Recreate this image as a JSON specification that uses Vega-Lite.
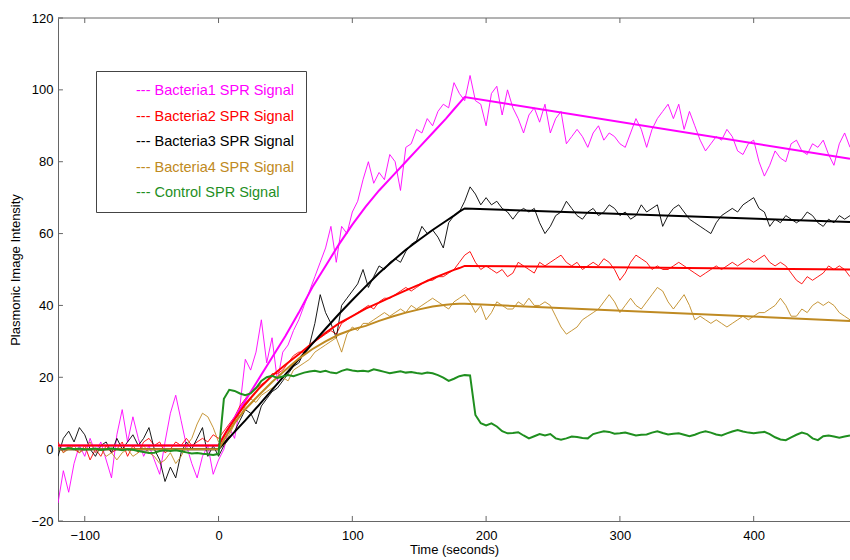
{
 "$schema": "https://vega.github.io/schema/vega-lite/v6.json",
 "width": 792, "height": 503,
 "autosize": {"type": "none"},
 "padding": {"left": 58, "top": 18, "right": 0, "bottom": 39},
 "background": "white",
 "config": {
  "view": {"stroke": null},
  "font": "Liberation Sans",
  "axis": {"domainColor": "#666", "ticks": false, "tickSize": 0, "labelColor": "#000", "labelFont": "Liberation Sans", "labelFontSize": 13, "titleFont": "Liberation Sans", "titleFontSize": 13, "titleFontWeight": "normal", "titleColor": "#000", "grid": false}
 },
 "datasets": {
  "xticks": [{"tv":-100},{"tv":0},{"tv":100},{"tv":200},{"tv":300},{"tv":400}],
  "yticks": [{"tv":-20},{"tv":0},{"tv":20},{"tv":40},{"tv":60},{"tv":80},{"tv":100},{"tv":120}],
  "raw": [
   {"t":-120,"b1":-15,"b2":2,"b3":-2,"b4":1,"c":0.2},
   {"t":-116,"b1":-6,"b2":-1,"b3":3,"b4":-1,"c":0},
   {"t":-112,"b1":-12,"b2":1,"b3":5,"b4":0,"c":0.3},
   {"t":-108,"b1":-4,"b2":0,"b3":2,"b4":1,"c":0},
   {"t":-104,"b1":1,"b2":-1,"b3":6,"b4":-1,"c":0.2},
   {"t":-100,"b1":-2,"b2":1,"b3":4,"b4":0,"c":-0.1},
   {"t":-96,"b1":3,"b2":-3,"b3":0,"b4":2,"c":0},
   {"t":-92,"b1":-1,"b2":0,"b3":-2,"b4":-1,"c":0.2},
   {"t":-88,"b1":2,"b2":-2,"b3":1,"b4":0,"c":-0.2},
   {"t":-84,"b1":-3,"b2":1,"b3":2,"b4":-2,"c":0},
   {"t":-80,"b1":-8,"b2":-1,"b3":-1,"b4":-1,"c":0.2},
   {"t":-76,"b1":4,"b2":0,"b3":3,"b4":-3,"c":0},
   {"t":-72,"b1":11,"b2":2,"b3":0,"b4":-1,"c":-0.3},
   {"t":-68,"b1":2,"b2":-2,"b3":2,"b4":0,"c":0},
   {"t":-64,"b1":9,"b2":1,"b3":4,"b4":-2,"c":-0.2},
   {"t":-60,"b1":3,"b2":-1,"b3":1,"b4":-1,"c":-0.5},
   {"t":-56,"b1":-2,"b2":2,"b3":3,"b4":1,"c":-0.8},
   {"t":-52,"b1":1,"b2":3,"b3":6,"b4":-1,"c":-1.1},
   {"t":-48,"b1":-3,"b2":1,"b3":0,"b4":-2,"c":-1},
   {"t":-44,"b1":-7,"b2":2,"b3":-3,"b4":-4,"c":-0.5},
   {"t":-40,"b1":2,"b2":-1,"b3":-9,"b4":-3,"c":-0.3},
   {"t":-36,"b1":10,"b2":0,"b3":-5,"b4":-1,"c":-0.5},
   {"t":-32,"b1":15,"b2":2,"b3":-8,"b4":-4,"c":-0.3},
   {"t":-28,"b1":8,"b2":1,"b3":-1,"b4":-2,"c":-0.6},
   {"t":-24,"b1":1,"b2":3,"b3":2,"b4":1,"c":-0.9},
   {"t":-20,"b1":-4,"b2":1,"b3":0,"b4":3,"c":-1.2},
   {"t":-16,"b1":-8,"b2":2,"b3":3,"b4":7,"c":-1.1},
   {"t":-12,"b1":-2,"b2":3,"b3":6,"b4":10,"c":-1.3},
   {"t":-8,"b1":1,"b2":2,"b3":-2,"b4":9,"c":-1.4},
   {"t":-4,"b1":-7,"b2":4,"b3":1,"b4":6,"c":-1.6},
   {"t":0,"b1":-3,"b2":3,"b3":-2,"b4":2,"c":-1.3},
   {"t":4,"b1":0,"b2":5,"b3":1,"b4":1,"c":14},
   {"t":8,"b1":6,"b2":7,"b3":3,"b4":4,"c":16.5},
   {"t":12,"b1":3,"b2":9,"b3":5,"b4":7,"c":16.2},
   {"t":16,"b1":12,"b2":12,"b3":8,"b4":9,"c":15.5},
   {"t":20,"b1":25,"b2":14,"b3":11,"b4":12,"c":15},
   {"t":24,"b1":22,"b2":16,"b3":10,"b4":14,"c":15.5},
   {"t":28,"b1":27,"b2":17,"b3":7,"b4":13,"c":17},
   {"t":32,"b1":36,"b2":18,"b3":12,"b4":15,"c":19},
   {"t":36,"b1":24,"b2":19,"b3":14,"b4":16,"c":20},
   {"t":40,"b1":31,"b2":21,"b3":16,"b4":17,"c":20.4},
   {"t":44,"b1":19,"b2":21,"b3":17,"b4":18,"c":19.8},
   {"t":48,"b1":27,"b2":22,"b3":19,"b4":20,"c":20.2},
   {"t":52,"b1":29,"b2":24,"b3":21,"b4":19,"c":20.6},
   {"t":56,"b1":33,"b2":26,"b3":23,"b4":22,"c":20.3},
   {"t":60,"b1":36,"b2":27,"b3":24,"b4":23,"c":20.8},
   {"t":64,"b1":40,"b2":27,"b3":27,"b4":24,"c":21.3},
   {"t":68,"b1":44,"b2":29,"b3":29,"b4":25,"c":21.6},
   {"t":72,"b1":48,"b2":30,"b3":35,"b4":27,"c":21.8},
   {"t":76,"b1":52,"b2":31,"b3":43,"b4":28,"c":21.5},
   {"t":80,"b1":56,"b2":32,"b3":38,"b4":29,"c":21.8},
   {"t":84,"b1":62,"b2":33,"b3":35,"b4":30,"c":21.3},
   {"t":88,"b1":52,"b2":32,"b3":31,"b4":31,"c":21.1},
   {"t":92,"b1":62,"b2":35,"b3":40,"b4":27,"c":21.8},
   {"t":96,"b1":60,"b2":36,"b3":42,"b4":32,"c":22.2},
   {"t":100,"b1":66,"b2":37,"b3":44,"b4":34,"c":21.9},
   {"t":104,"b1":69,"b2":38,"b3":46,"b4":33,"c":21.7},
   {"t":108,"b1":75,"b2":39,"b3":50,"b4":35,"c":21.8},
   {"t":112,"b1":80,"b2":40,"b3":45,"b4":35,"c":21.6},
   {"t":116,"b1":74,"b2":39,"b3":48,"b4":36,"c":22.2},
   {"t":120,"b1":77,"b2":41,"b3":51,"b4":37,"c":21.9},
   {"t":124,"b1":75,"b2":42,"b3":50,"b4":38,"c":21.5},
   {"t":128,"b1":82,"b2":42,"b3":52,"b4":37,"c":21.1},
   {"t":132,"b1":80,"b2":43,"b3":53,"b4":38,"c":21.4},
   {"t":136,"b1":72,"b2":44,"b3":52,"b4":39,"c":21.7},
   {"t":140,"b1":84,"b2":45,"b3":55,"b4":38,"c":21.3},
   {"t":144,"b1":85,"b2":44,"b3":57,"b4":40,"c":21.5},
   {"t":148,"b1":89,"b2":45,"b3":58,"b4":39,"c":21.2},
   {"t":152,"b1":88,"b2":46,"b3":62,"b4":40,"c":21},
   {"t":156,"b1":92,"b2":47,"b3":60,"b4":41,"c":21.3},
   {"t":160,"b1":90,"b2":47,"b3":61,"b4":42,"c":21.1},
   {"t":164,"b1":94,"b2":48,"b3":59,"b4":41,"c":20.6},
   {"t":168,"b1":96,"b2":48,"b3":56,"b4":40,"c":19.9},
   {"t":172,"b1":95,"b2":49,"b3":63,"b4":39,"c":19},
   {"t":176,"b1":102,"b2":50,"b3":65,"b4":41,"c":19.6},
   {"t":180,"b1":99,"b2":52,"b3":66,"b4":42,"c":20.3},
   {"t":184,"b1":97,"b2":54,"b3":69,"b4":43,"c":20.6},
   {"t":188,"b1":104,"b2":55,"b3":73,"b4":41,"c":20.5},
   {"t":192,"b1":97,"b2":52,"b3":71,"b4":38,"c":9.5},
   {"t":196,"b1":96,"b2":50,"b3":68,"b4":40,"c":7.2},
   {"t":200,"b1":90,"b2":51,"b3":70,"b4":36,"c":6.6},
   {"t":204,"b1":99,"b2":50,"b3":68,"b4":38,"c":7.2},
   {"t":208,"b1":101,"b2":49,"b3":69,"b4":41,"c":6.3},
   {"t":212,"b1":93,"b2":50,"b3":67,"b4":40,"c":5},
   {"t":216,"b1":100,"b2":48,"b3":66,"b4":39,"c":4.4},
   {"t":220,"b1":95,"b2":49,"b3":64,"b4":39,"c":4.5},
   {"t":224,"b1":92,"b2":52,"b3":66,"b4":41,"c":4.7},
   {"t":228,"b1":88,"b2":51,"b3":67,"b4":40,"c":3.8},
   {"t":232,"b1":93,"b2":50,"b3":66,"b4":42,"c":3},
   {"t":236,"b1":95,"b2":49,"b3":67,"b4":40,"c":3.6},
   {"t":240,"b1":91,"b2":52,"b3":63,"b4":40,"c":4.2},
   {"t":244,"b1":96,"b2":51,"b3":60,"b4":41,"c":3.8},
   {"t":248,"b1":88,"b2":52,"b3":62,"b4":40,"c":4.2},
   {"t":252,"b1":92,"b2":53,"b3":65,"b4":37,"c":3},
   {"t":256,"b1":94,"b2":54,"b3":66,"b4":34,"c":2.6},
   {"t":260,"b1":85,"b2":52,"b3":69,"b4":32,"c":3},
   {"t":264,"b1":87,"b2":51,"b3":67,"b4":33,"c":3.5},
   {"t":268,"b1":89,"b2":52,"b3":65,"b4":34,"c":3.4},
   {"t":272,"b1":87,"b2":50,"b3":64,"b4":36,"c":3.1},
   {"t":276,"b1":84,"b2":51,"b3":66,"b4":37,"c":3},
   {"t":280,"b1":88,"b2":52,"b3":67,"b4":38,"c":4.2},
   {"t":284,"b1":90,"b2":51,"b3":65,"b4":39,"c":4.6},
   {"t":288,"b1":86,"b2":53,"b3":66,"b4":41,"c":5},
   {"t":292,"b1":88,"b2":52,"b3":68,"b4":43,"c":4.8},
   {"t":296,"b1":87,"b2":50,"b3":67,"b4":41,"c":4.3},
   {"t":300,"b1":85,"b2":47,"b3":65,"b4":38,"c":4.4},
   {"t":304,"b1":84,"b2":49,"b3":66,"b4":40,"c":4.6},
   {"t":308,"b1":88,"b2":52,"b3":64,"b4":42,"c":4.2},
   {"t":312,"b1":92,"b2":54,"b3":65,"b4":40,"c":3.8},
   {"t":316,"b1":89,"b2":53,"b3":68,"b4":39,"c":4},
   {"t":320,"b1":84,"b2":52,"b3":66,"b4":41,"c":4.1},
   {"t":324,"b1":89,"b2":50,"b3":67,"b4":43,"c":4.6},
   {"t":328,"b1":92,"b2":51,"b3":68,"b4":45,"c":5},
   {"t":332,"b1":94,"b2":50,"b3":62,"b4":44,"c":4.5},
   {"t":336,"b1":96,"b2":50,"b3":65,"b4":41,"c":4.1},
   {"t":340,"b1":92,"b2":51,"b3":67,"b4":39,"c":4.3},
   {"t":344,"b1":96,"b2":52,"b3":68,"b4":41,"c":4.4},
   {"t":348,"b1":89,"b2":51,"b3":66,"b4":43,"c":4},
   {"t":352,"b1":94,"b2":50,"b3":64,"b4":40,"c":3.6},
   {"t":356,"b1":90,"b2":49,"b3":63,"b4":36,"c":4},
   {"t":360,"b1":86,"b2":48,"b3":62,"b4":37,"c":4.6},
   {"t":364,"b1":83,"b2":49,"b3":61,"b4":36,"c":5},
   {"t":368,"b1":85,"b2":50,"b3":60,"b4":35,"c":4.6},
   {"t":372,"b1":87,"b2":51,"b3":63,"b4":36,"c":4.1},
   {"t":376,"b1":86,"b2":50,"b3":65,"b4":35,"c":3.8},
   {"t":380,"b1":89,"b2":51,"b3":66,"b4":34,"c":4.4},
   {"t":384,"b1":87,"b2":52,"b3":67,"b4":35,"c":4.9},
   {"t":388,"b1":83,"b2":51,"b3":66,"b4":36,"c":5.3},
   {"t":392,"b1":82,"b2":52,"b3":68,"b4":37,"c":4.9},
   {"t":396,"b1":85,"b2":53,"b3":69,"b4":36,"c":4.6},
   {"t":400,"b1":86,"b2":52,"b3":70,"b4":37,"c":4.4},
   {"t":404,"b1":80,"b2":53,"b3":67,"b4":38,"c":4.6},
   {"t":408,"b1":76,"b2":54,"b3":66,"b4":38,"c":4.8},
   {"t":412,"b1":79,"b2":52,"b3":62,"b4":39,"c":4.2},
   {"t":416,"b1":83,"b2":51,"b3":64,"b4":40,"c":3.3},
   {"t":420,"b1":81,"b2":52,"b3":63,"b4":42,"c":2.7},
   {"t":424,"b1":80,"b2":51,"b3":65,"b4":40,"c":2.5},
   {"t":428,"b1":85,"b2":49,"b3":64,"b4":37,"c":3.3},
   {"t":432,"b1":86,"b2":47,"b3":63,"b4":37,"c":4},
   {"t":436,"b1":83,"b2":46,"b3":64,"b4":39,"c":4.6},
   {"t":440,"b1":82,"b2":48,"b3":66,"b4":38,"c":4.2},
   {"t":444,"b1":85,"b2":47,"b3":65,"b4":40,"c":3},
   {"t":448,"b1":84,"b2":48,"b3":63,"b4":41,"c":2.5},
   {"t":452,"b1":86,"b2":49,"b3":62,"b4":40,"c":3.6},
   {"t":456,"b1":82,"b2":51,"b3":64,"b4":41,"c":3.8},
   {"t":460,"b1":79,"b2":50,"b3":63,"b4":40,"c":3.5},
   {"t":464,"b1":85,"b2":51,"b3":65,"b4":38,"c":3.2},
   {"t":468,"b1":88,"b2":50,"b3":64,"b4":37,"c":3.5},
   {"t":472,"b1":84,"b2":48,"b3":65,"b4":36,"c":3.8}
  ],
  "fit": [
   {"t":-120,"b1":1,"b2":1,"b3":0,"b4":0},
   {"t":0,"b1":1,"b2":1,"b3":0,"b4":0},
   {"t":6,"b1":5,"b2":5,"b3":2.4,"b4":3.8},
   {"t":12,"b1":8.7,"b2":8.3,"b3":4.8,"b4":7.4},
   {"t":20,"b1":13.5,"b2":12.5,"b3":8,"b4":11.1},
   {"t":30,"b1":19.5,"b2":16.8,"b3":12.2,"b4":15},
   {"t":40,"b1":25.5,"b2":20.4,"b3":16.5,"b4":18.7},
   {"t":50,"b1":31.5,"b2":23.5,"b3":20.8,"b4":22},
   {"t":60,"b1":38,"b2":26.4,"b3":25,"b4":25.2},
   {"t":70,"b1":45,"b2":29.5,"b3":29.3,"b4":27.8},
   {"t":80,"b1":51,"b2":32.4,"b3":33.5,"b4":30},
   {"t":90,"b1":57,"b2":35,"b3":37.6,"b4":31.9},
   {"t":100,"b1":62.5,"b2":37,"b3":41.5,"b4":33.3},
   {"t":110,"b1":67.5,"b2":39.1,"b3":45.3,"b4":34.3},
   {"t":120,"b1":72,"b2":40.8,"b3":49,"b4":35.7},
   {"t":130,"b1":76,"b2":42.5,"b3":52.3,"b4":36.9},
   {"t":140,"b1":80,"b2":44.2,"b3":55.5,"b4":38},
   {"t":150,"b1":84,"b2":45.8,"b3":58.3,"b4":38.9},
   {"t":160,"b1":88,"b2":47.5,"b3":61,"b4":39.7},
   {"t":170,"b1":92,"b2":49,"b3":63.5,"b4":40.2},
   {"t":176,"b1":94.6,"b2":49.9,"b3":65,"b4":40.4},
   {"t":180,"b1":96.3,"b2":50.4,"b3":66.1,"b4":40.5},
   {"t":184,"b1":98,"b2":51,"b3":67,"b4":40.45},
   {"t":472,"b1":80.8,"b2":50,"b3":63.2,"b4":35.7}
  ]
 },
 "layer": [
  {
   "data": {"name": "raw"},
   "transform": [{"fold": ["b1", "b2", "b3", "b4"], "as": ["s", "v"]}],
   "mark": {"type": "line", "strokeWidth": 0.9, "clip": true},
   "encoding": {
    "x": {"field": "t", "type": "quantitative", "title": "Time (seconds)",
          "scale": {"domain": [-120, 472], "nice": false, "zero": false},
          "axis": {"orient": "bottom", "values": [-100, 0, 100, 200, 300, 400], "format": "d", "labelPadding": 8, "titlePadding": 1}},
    "y": {"field": "v", "type": "quantitative", "title": "Plasmonic Image Intensity",
          "scale": {"domain": [-20, 120], "nice": false, "zero": false},
          "axis": {"values": [-20, 0, 20, 40, 60, 80, 100, 120], "labelPadding": 5, "titlePadding": 8}},
    "color": {"field": "s", "type": "nominal",
              "scale": {"domain": ["b1", "b2", "b3", "b4", "ctl"], "range": ["#ff00ff", "#ff0000", "#000000", "#bf8a22", "#1f8f1f"]},
              "legend": {"orient": "none", "legendX": 38, "legendY": 53, "title": null, "direction": "vertical",
                         "padding": 12, "strokeColor": "#444", "fillColor": "white",
                         "symbolType": "stroke", "symbolSize": 256, "symbolOpacity": 0, "symbolStrokeWidth": 0,
                         "labelOffset": 12, "labelFont": "Liberation Sans", "labelFontSize": 14.5, "labelLimit": 300, "rowPadding": 10.5,
                         "labelExpr": "'--- ' + (datum.label == 'b1' ? 'Bacteria1 SPR Signal' : datum.label == 'b2' ? 'Bacteria2 SPR Signal' : datum.label == 'b3' ? 'Bacteria3 SPR Signal' : datum.label == 'b4' ? 'Bacteria4 SPR Signal' : 'Control SPR Signal')",
                         "encode": {"labels": {"update": {"fill": {"scale": "color", "field": "value"}}}}}}
   }
  },
  {
   "data": {"name": "fit"},
   "transform": [{"fold": ["b1", "b2", "b3", "b4"], "as": ["s", "v"]}],
   "mark": {"type": "line", "strokeWidth": 2, "clip": true},
   "encoding": {
    "x": {"field": "t", "type": "quantitative", "title": "Time (seconds)"},
    "y": {"field": "v", "type": "quantitative", "title": "Plasmonic Image Intensity"},
    "color": {"field": "s", "type": "nominal"}
   }
  },
  {
   "data": {"name": "raw"},
   "mark": {"type": "line", "strokeWidth": 2, "clip": true},
   "encoding": {
    "x": {"field": "t", "type": "quantitative", "title": "Time (seconds)"},
    "y": {"field": "c", "type": "quantitative", "title": "Plasmonic Image Intensity"},
    "color": {"datum": "ctl"}
   }
  },
  {
   "data": {"name": "xticks"},
   "mark": {"type": "rule", "color": "#666", "strokeWidth": 1},
   "encoding": {
    "x": {"field": "tv", "type": "quantitative", "title": "Time (seconds)"},
    "y": {"datum": -20},
    "y2": {"datum": -18.6}
   }
  },
  {
   "data": {"name": "xticks"},
   "mark": {"type": "rule", "color": "#666", "strokeWidth": 1},
   "encoding": {
    "x": {"field": "tv", "type": "quantitative", "title": "Time (seconds)"},
    "y": {"datum": 120},
    "y2": {"datum": 118.6}
   }
  },
  {
   "data": {"name": "yticks"},
   "mark": {"type": "rule", "color": "#666", "strokeWidth": 1},
   "encoding": {
    "y": {"field": "tv", "type": "quantitative", "title": "Plasmonic Image Intensity"},
    "x": {"datum": -120},
    "x2": {"datum": -116.3}
   }
  },
  {
   "data": {"values": [{}]},
   "mark": {"type": "rule", "color": "#666", "strokeWidth": 1},
   "encoding": {
    "y": {"datum": 120},
    "x": {"datum": -120},
    "x2": {"datum": 472}
   }
  }
 ]
}
